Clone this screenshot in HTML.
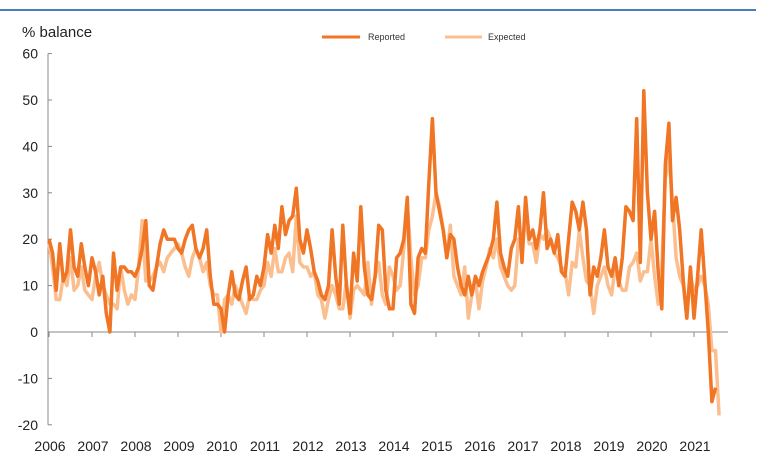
<!DOCTYPE html>
<html><head><meta charset="utf-8"><style>
body{margin:0;background:#fff;}
svg{display:block;font-family:"Liberation Sans",Arial,sans-serif;}
</style></head><body>
<svg id="chart" width="762" height="461" viewBox="0 0 762 461">
<line x1="0" y1="10" x2="756" y2="10" stroke="#4a7ebb" stroke-width="2"/>
<text x="22" y="37" font-size="15" fill="#222">% balance</text>
<g>
<line x1="322" y1="37" x2="360" y2="37" stroke="#f07524" stroke-width="3"/>
<text x="368" y="40" font-size="9" fill="#333">Reported</text>
<line x1="445" y1="37" x2="482" y2="37" stroke="#fbbf8f" stroke-width="3"/>
<text x="488" y="40" font-size="9" fill="#333">Expected</text>
</g>
<g id="axes"></g>
<g id="series"></g>
</svg>
<script>
const yTicks=[60,50,40,30,20,10,0,-10,-20];
const years=["2006","2007","2008","2009","2010","2011","2012","2013","2014","2015","2016","2017","2018","2019","2020","2021"];
const reported=[20,17,9,19,11,13,22,14,12,19,14,10,
16,13,8,12,4,0,17,9,14,14,13,13,
12,14,18,24,10,9,14,19,22,20,20,20,
18,17,20,22,23,18,16,18,22,12,6,6,
5,0,8,13,8,7,11,14,7,8,12,10,
14,21,17,23,18,27,21,24,25,31,20,17,
22,18,13,11,8,7,10,22,12,6,23,10,
4,17,11,27,14,8,7,12,23,22,9,5,
5,16,17,20,29,6,4,16,18,17,32,46,
30,26,22,16,21,20,14,10,8,12,8,12,
10,13,15,17,20,28,17,14,12,18,20,27,
15,29,20,22,18,22,30,18,20,17,21,13,
12,20,28,26,22,28,22,8,14,12,16,22,
14,12,16,10,16,27,26,24,46,15,52,30,
20,26,13,5,36,45,24,29,22,11,3,14,
3,12,22,11,0,-15,-12];
const expected=[19,14,7,7,12,10,16,9,10,14,9,8,
7,12,15,10,8,6,6,5,14,9,6,8,
7,14,24,11,11,12,14,15,13,16,17,18,
19,17,14,12,16,18,16,13,15,10,8,8,
0,7,8,6,10,8,6,4,8,7,7,9,
10,15,12,18,13,13,16,17,13,25,15,14,
14,12,13,8,7,3,7,10,8,5,5,11,
3,9,10,9,8,15,6,12,15,8,6,14,
12,9,10,18,28,16,8,10,16,16,22,25,
30,27,22,16,23,12,10,8,14,3,8,11,
5,11,14,18,16,20,14,12,10,9,10,20,
18,25,19,19,15,21,20,22,20,17,16,14,
13,8,15,14,22,16,11,10,4,10,12,14,
10,8,14,11,9,9,14,15,17,11,13,13,
20,12,6,14,33,38,28,16,12,10,3,12,
9,10,12,10,6,-4,-4,-18];
const NS="http://www.w3.org/2000/svg";
const x0=49, yearW=43.0;
function xm(i){return x0+i*yearW/12;}
function yv(v){return 332-v*4.64;}
const axes=document.getElementById('axes');
function mk(tag,attrs,parent){const e=document.createElementNS(NS,tag);for(const k in attrs)e.setAttribute(k,attrs[k]);parent.appendChild(e);return e;}
const ya=mk('line',{x1:48,y1:yv(60),x2:48,y2:yv(-20),stroke:'#888','stroke-width':1},axes);


yTicks.forEach(v=>{
 const t=mk('line',{x1:48,y1:yv(v),x2:52,y2:yv(v),stroke:'#888'},axes);
 
 
 const l=mk('text',{x:38,y:yv(v)+5,'font-size':14,'text-anchor':'end',fill:'#222'},axes);
 l.textContent=v;
 
 
});
const xa=mk('line',{x1:48,y1:yv(0),x2:728,y2:yv(0),stroke:'#888','stroke-width':1},axes);


years.forEach((y,i)=>{
 const x=x0+i*yearW;
 const t=mk('line',{x1:x,y1:yv(0),x2:x,y2:yv(0)+5,stroke:'#888'},axes);
 
 
 const l=mk('text',{x:x+1,y:451,'font-size':14,'text-anchor':'middle',fill:'#222'},axes);
 l.textContent=y;
 
 
});
const ser=document.getElementById('series');
function path(arr){return arr.map((v,i)=>(i?'L':'M')+xm(i).toFixed(1)+','+yv(v).toFixed(1)).join(' ');}
const pe=mk('path',{d:path(expected),fill:'none',stroke:'#fbbf8f','stroke-width':3.5,'stroke-linejoin':'round'},ser);


const pr=mk('path',{d:path(reported),fill:'none',stroke:'#f07524','stroke-width':3.5,'stroke-linejoin':'round'},ser);


</script>
</body></html>
